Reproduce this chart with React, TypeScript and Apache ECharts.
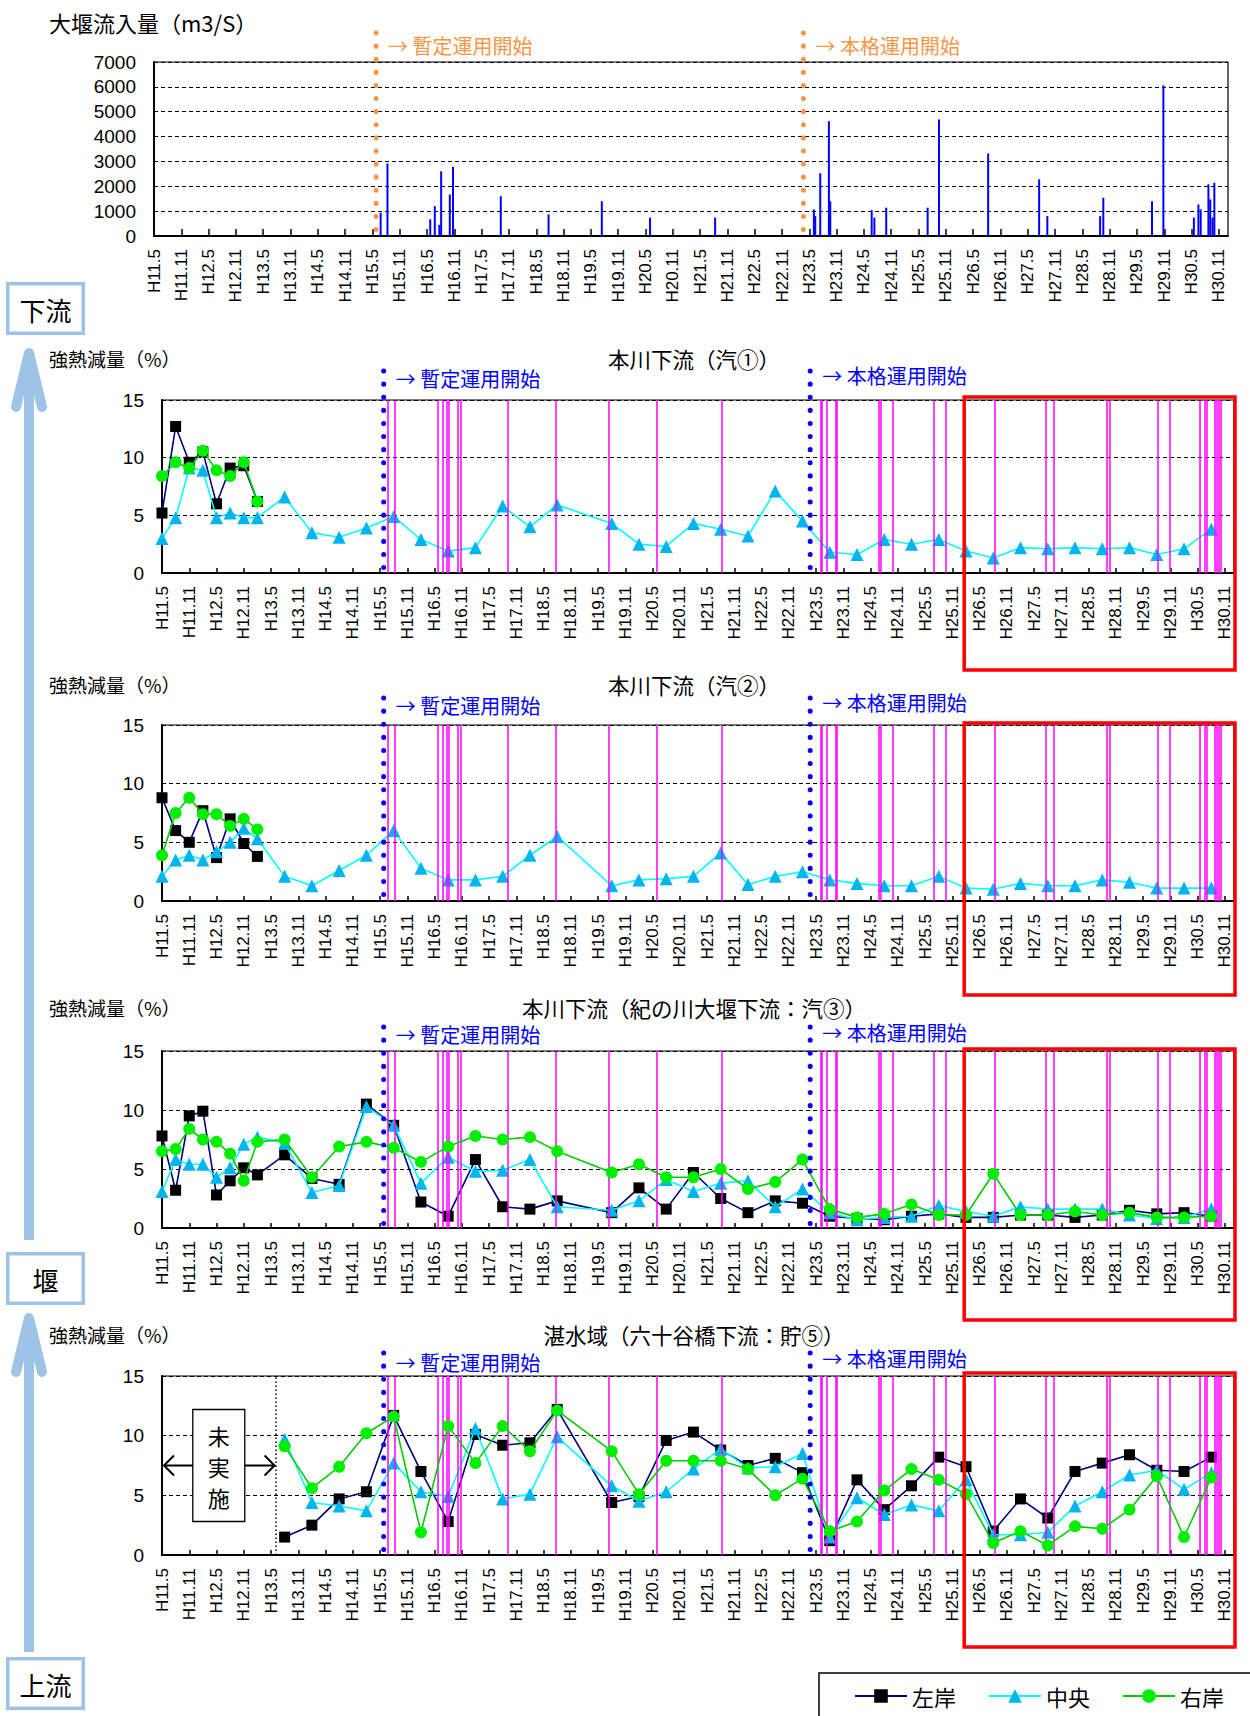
import React, { useEffect, useRef } from "react";
import * as echarts from "echarts";

// ---------- DATA ----------
// x-axis tick labels, one every 6 months (H11.5 ... H30.11)
const TICK_LABELS = [
  "H11.5", "H11.11", "H12.5", "H12.11", "H13.5", "H13.11", "H14.5", "H14.11",
  "H15.5", "H15.11", "H16.5", "H16.11", "H17.5", "H17.11", "H18.5", "H18.11",
  "H19.5", "H19.11", "H20.5", "H20.11", "H21.5", "H21.11", "H22.5", "H22.11",
  "H23.5", "H23.11", "H24.5", "H24.11", "H25.5", "H25.11", "H26.5", "H26.11",
  "H27.5", "H27.11", "H28.5", "H28.11", "H29.5", "H29.11", "H30.5", "H30.11",
];
const AXIS_MAX_MONTH = 236; // months after H11.5 (axis ends around H31.1)

// sampling dates
const DATES_EARLY = ["H11.5", "H11.8", "H11.11", "H12.2", "H12.5", "H12.8", "H12.11", "H13.2"];
const DATES_MAIN = [
  "H13.8", "H14.2", "H14.8", "H15.2", "H15.8", "H16.2", "H16.8", "H17.2", "H17.8", "H18.2", "H18.8",
  "H19.8", "H20.2", "H20.8", "H21.2", "H21.8", "H22.2", "H22.8", "H23.2",
  "H23.8", "H24.2", "H24.8", "H25.2", "H25.8", "H26.2", "H26.8", "H27.2", "H27.8",
  "H28.2", "H28.8", "H29.2", "H29.8", "H30.2", "H30.8",
];
const DATES_ALL = [...DATES_EARLY, ...DATES_MAIN];

// flood events: months after H11.5, and peak inflow (m3/s)
const FLOOD_MONTH = [
  49.8, 51.3, 60.7, 61.7, 62.7, 63.1, 65.0, 65.7, 76.2, 86.7, 98.4, 109.0, 123.3,
  145.0, 145.3, 146.4, 148.3, 148.6, 157.7, 158.3, 160.9, 170.0, 172.5, 183.3,
  194.5, 196.3, 207.9, 208.6, 219.3, 221.8, 228.5, 229.5, 230.0, 231.7, 232.1, 232.6, 233.0,
];
const FLOOD_PEAK = [
  940, 2920, 670, 1200, 450, 2600, 1670, 2780, 1600, 870, 1400, 740, 740,
  1070, 800, 2520, 4620, 1400, 1040, 740, 1140, 1140, 4690, 3320,
  2280, 800, 800, 1540, 1400, 6060, 740, 1270, 1070, 2080, 1470, 740, 2140,
];

const START_PROVISIONAL = 48.8; // 暫定運用開始
const START_FULL = 142.7; // 本格運用開始
const NOT_SURVEYED_END = 25; // 貯⑤ 未実施 until
const HIGHLIGHT_FROM = 176.6; // red frame start (H26)

// 本川下流（汽①）
const K1_LEFT = [5.2, 12.7, 9.6, 10.5, 6.0, 9.1, 9.3, 6.2];
const K1_CENTER = [
  3.0, 4.8, 9.1, 8.9, 4.8, 5.2, 4.8, 4.8,
  6.6, 3.5, 3.1, 3.9, 4.9, 2.9, 1.9, 2.2, 5.8, 4.0, 5.9,
  4.3, 2.5, 2.3, 4.3, 3.8, 3.2, 7.1, 4.5,
  1.8, 1.6, 2.9, 2.5, 2.9, 1.9, 1.3, 2.2, 2.1, 2.2, 2.1, 2.2, 1.6, 2.1, 3.8,
];
const K1_RIGHT = [8.4, 9.6, 9.1, 10.6, 8.9, 8.4, 9.6, 6.2];

// 本川下流（汽②）
const K2_LEFT = [8.8, 6.0, 5.0, 7.7, 3.7, 7.0, 4.9, 3.8];
const K2_CENTER = [
  2.1, 3.5, 3.9, 3.5, 4.2, 5.0, 6.2, 5.3,
  2.1, 1.3, 2.6, 3.9, 6.0, 2.8, 1.8, 1.8, 2.1, 3.9, 5.5,
  1.3, 1.8, 1.9, 2.1, 4.1, 1.4, 2.1, 2.5,
  1.8, 1.5, 1.3, 1.3, 2.1, 1.1, 1.0, 1.5, 1.3, 1.3, 1.8, 1.6, 1.1, 1.1, 1.1,
];
const K2_RIGHT = [3.9, 7.5, 8.8, 7.4, 7.4, 6.4, 7.0, 6.1];

// 本川下流（紀の川大堰下流：汽③）
const K3_LEFT = [
  7.8, 3.2, 9.5, 9.9, 2.8, 4.0, 5.1, 4.5,
  6.2, 4.2, 3.7, 10.5, 8.7, 2.2, 1.0, 5.8, 1.8, 1.6, 2.3,
  1.3, 3.4, 1.6, 4.7, 2.5, 1.3, 2.3, 2.1,
  1.0, 0.8, 0.7, 1.0, 1.2, 0.9, 0.9, 1.1, 1.1, 0.9, 1.1, 1.5, 1.2, 1.3, 1.0,
];
const K3_CENTER = [
  3.1, 5.8, 5.4, 5.4, 4.3, 5.1, 7.1, 7.7,
  7.2, 3.0, 3.6, 10.3, 8.7, 3.8, 6.0, 4.8, 4.9, 5.8, 1.8,
  1.5, 2.3, 4.1, 3.1, 3.8, 4.0, 1.8, 3.3,
  1.3, 0.7, 0.9, 1.0, 1.9, 1.4, 1.0, 1.8, 1.6, 1.6, 1.6, 1.1, 0.8, 0.9, 1.6,
];
const K3_RIGHT = [
  6.5, 6.7, 8.4, 7.5, 7.3, 6.3, 4.0, 7.3,
  7.5, 4.3, 6.9, 7.3, 6.8, 5.6, 6.9, 7.8, 7.5, 7.7, 6.5,
  4.7, 5.4, 4.3, 4.3, 5.0, 3.3, 3.9, 5.8,
  1.6, 0.9, 1.2, 2.0, 1.1, 1.1, 4.6, 1.1, 1.1, 1.4, 1.1, 1.3, 0.9, 0.9, 1.0,
];

// 湛水域（六十谷橋下流：貯⑤）
const T5_LEFT = [
  1.5, 2.5, 4.7, 5.3, 11.7, 7.0, 2.8, 10.1, 9.2, 9.4, 12.2,
  4.4, 4.9, 9.6, 10.3, 8.8, 7.5, 8.1, 6.9,
  1.2, 6.3, 3.8, 5.8, 8.2, 7.4, 2.0, 4.7, 3.1, 7.0, 7.7, 8.4, 7.1, 7.0, 8.2,
];
const T5_CENTER = [
  9.7, 4.4, 4.1, 3.7, 7.7, 5.3, 4.9, 10.6, 4.7, 5.1, 9.9,
  5.8, 4.5, 5.3, 7.2, 8.9, 7.3, 7.4, 8.5,
  1.5, 4.8, 3.4, 4.2, 3.7, 6.3, 1.7, 1.7, 1.9, 4.1, 5.3, 6.7, 7.1, 5.5, 6.9,
];
const T5_RIGHT = [
  9.1, 5.6, 7.4, 10.2, 11.6, 1.9, 10.8, 7.7, 10.8, 8.7, 12.1,
  8.7, 5.1, 7.9, 7.9, 7.9, 7.2, 5.0, 6.4,
  2.0, 2.8, 5.4, 7.2, 6.3, 5.1, 1.0, 2.0, 0.8, 2.4, 2.2, 3.8, 6.6, 1.5, 6.5,
];

const TITLES = [
  "本川下流（汽①）",
  "本川下流（汽②）",
  "本川下流（紀の川大堰下流：汽③）",
  "湛水域（六十谷橋下流：貯⑤）",
];

// ---------- helpers ----------
const toMonth = (s: string) => {
  const [y, m] = s.slice(1).split(".").map(Number);
  return (y - 11) * 12 + (m - 5);
};
const pairs = (dates: string[], vals: number[]) => vals.map((v, i) => [toMonth(dates[i]), v]);

const CJK = "'Noto Sans CJK JP', sans-serif";
const LAT = "'Liberation Sans', Arial, sans-serif";

const GRIDS = [
  { left: 154, right: 22, top: 62, height: 174 },
  { left: 162, right: 16, top: 400, height: 173 },
  { left: 162, right: 16, top: 725, height: 176 },
  { left: 162, right: 16, top: 1051, height: 177 },
  { left: 162, right: 16, top: 1376, height: 179 },
];
const ANNOT: any[] = [
  { dotTop: 33, lab1: 45, lab2: 45 },
  { dotTop: 371, lab1: 378, lab2: 375, head: 358, box: [397, 670] },
  { dotTop: 698, lab1: 705, lab2: 702, head: 684, box: [723, 995] },
  { dotTop: 1027, lab1: 1034, lab2: 1032, head: 1007, box: [1049, 1320] },
  { dotTop: 1353, lab1: 1362, lab2: 1358, head: 1334, box: [1373, 1647] },
];

function buildOption() {
  const grid = GRIDS.map((g) => ({ ...g, show: true, borderColor: "#000", borderWidth: 1.2, backgroundColor: "#fff" }));
  const xAxis = GRIDS.map((_, i) => ({
    type: "value",
    gridIndex: i,
    min: 0,
    max: AXIS_MAX_MONTH,
    interval: 6,
    axisLine: { show: true, onZero: false, lineStyle: { color: "#000", width: 2 } },
    axisTick: { show: true, inside: true, length: i === 0 ? 7 : 5, lineStyle: { color: "#000", width: 1.5 } },
    axisLabel: {
      rotate: 90,
      margin: 13,
      fontSize: 17,
      color: "#000",
      fontFamily: LAT,
      showMaxLabel: false,
      formatter: (v: number) => (v % 6 === 0 && TICK_LABELS[v / 6] ? TICK_LABELS[v / 6] : ""),
    },
    splitLine: { show: false },
  }));
  const yAxis = GRIDS.map((_, i) => ({
    type: "value",
    gridIndex: i,
    min: 0,
    max: i === 0 ? 7000 : 15,
    interval: i === 0 ? 1000 : 5,
    axisLine: { show: true, lineStyle: { color: "#000", width: 2 } },
    axisTick: { show: false },
    axisLabel: { margin: 18, fontSize: 19, color: "#000", fontFamily: LAT, formatter: (v: number) => String(v) },
    splitLine: { show: true, lineStyle: { color: "#000", type: [4, 3], width: 1.2 } },
  }));

  const series: any[] = [];
  series.push({
    type: "bar",
    name: "流入量",
    xAxisIndex: 0,
    yAxisIndex: 0,
    barWidth: 2,
    itemStyle: { color: "#0000FF" },
    data: FLOOD_MONTH.map((t, i) => [t, FLOOD_PEAK[i]]),
  });

  const sets: Array<[number[][], number[][], number[][]]> = [
    [pairs(DATES_EARLY, K1_LEFT), pairs(DATES_ALL, K1_CENTER), pairs(DATES_EARLY, K1_RIGHT)],
    [pairs(DATES_EARLY, K2_LEFT), pairs(DATES_ALL, K2_CENTER), pairs(DATES_EARLY, K2_RIGHT)],
    [pairs(DATES_ALL, K3_LEFT), pairs(DATES_ALL, K3_CENTER), pairs(DATES_ALL, K3_RIGHT)],
    [pairs(DATES_MAIN, T5_LEFT), pairs(DATES_MAIN, T5_CENTER), pairs(DATES_MAIN, T5_RIGHT)],
  ];

  sets.forEach((s, k) => {
    const gi = k + 1;
    const mlData: any[] = FLOOD_MONTH.map((t) => ({ xAxis: t }));
    if (gi === 4) {
      mlData.push({ xAxis: NOT_SURVEYED_END, lineStyle: { color: "#000", type: [1.5, 2.5], width: 1.5 } });
    }
    series.push({
      type: "line",
      name: "_flood" + gi,
      xAxisIndex: gi,
      yAxisIndex: gi,
      data: [],
      z: 1,
      silent: true,
      markLine: {
        silent: true,
        symbol: ["none", "none"],
        label: { show: false },
        emphasis: { disabled: true },
        lineStyle: { color: "#FF00FF", width: 1.5, type: "solid" },
        data: mlData,
      },
    });
    series.push({
      type: "line",
      name: "左岸",
      xAxisIndex: gi,
      yAxisIndex: gi,
      data: s[0],
      symbol: "rect",
      symbolSize: 11,
      itemStyle: { color: "#000000" },
      lineStyle: { color: "#000080", width: 1.6 },
      z: 3,
    });
    series.push({
      type: "line",
      name: "中央",
      xAxisIndex: gi,
      yAxisIndex: gi,
      data: s[1],
      symbol: "triangle",
      symbolSize: 13,
      itemStyle: { color: "#00B4F0" },
      lineStyle: { color: "#00FFFF", width: 1.6 },
      z: 4,
    });
    series.push({
      type: "line",
      name: "右岸",
      xAxisIndex: gi,
      yAxisIndex: gi,
      data: s[2],
      symbol: "circle",
      symbolSize: 12,
      itemStyle: { color: "#00EE00" },
      lineStyle: { color: "#00CC00", width: 1.6 },
      z: 5,
    });
  });

  return {
    animation: false,
    backgroundColor: "#fff",
    textStyle: { fontFamily: CJK },
    grid,
    xAxis,
    yAxis,
    series,
    legend: {
      data: ["左岸", "中央", "右岸"],
      left: 849,
      top: 1680,
      itemWidth: 52,
      itemHeight: 17,
      itemGap: 32,
      selectedMode: false,
      textStyle: { fontSize: 22, color: "#000", fontFamily: CJK },
    },
  };
}

function buildGraphics(chart: any) {
  const g: any[] = [];
  const px = (gi: number, t: number, v: number) => chart.convertToPixel({ gridIndex: gi }, [t, v]);
  const txt = (x: number, y: number, text: string, size: number, fill = "#000", align = "left") => ({
    type: "text",
    x,
    y,
    z: 100,
    style: { text, fontSize: size, fontFamily: CJK, fill, textAlign: align, textVerticalAlign: "middle", align, verticalAlign: "middle" },
  });
  const line = (x1: number, y1: number, x2: number, y2: number, stroke: string, lineWidth: number, extra: any = {}) => ({
    type: "line",
    z: 100,
    shape: { x1, y1, x2, y2 },
    style: { stroke, lineWidth, ...extra },
  });

  // titles
  g.push(txt(49, 22, "大堰流入量（m3/S）", 22));
  TITLES.forEach((t, k) => {
    const a = ANNOT[k + 1];
    g.push(txt(49, a.head, "強熱減量（%）", 19));
    g.push(txt(694, a.head, t, 21.5, "#000", "center"));
  });

  // start lines + labels
  ANNOT.forEach((a, gi) => {
    const col = gi === 0 ? "#F79646" : "#0000FF";
    const bottom = GRIDS[gi].top + GRIDS[gi].height;
    const x1 = px(gi, START_PROVISIONAL, 0)[0];
    const x2 = px(gi, START_FULL, 0)[0];
    const dot = { lineDash: [0.1, 13], lineCap: "round" };
    g.push(line(x1, a.dotTop, x1, bottom - 2, col, 5, dot));
    g.push(line(x2, a.dotTop, x2, bottom - 2, col, 5, dot));
    g.push(txt(x1 + 12, a.lab1, "→ 暫定運用開始", 20, col));
    g.push(txt(x2 + 12, a.lab2, "→ 本格運用開始", 20, col));
    if (a.box) {
      const bx = px(gi, HIGHLIGHT_FROM, 0)[0];
      const rx = 1250 - GRIDS[gi].right + 1;
      g.push({
        type: "rect",
        z: 110,
        shape: { x: bx, y: a.box[0], width: rx - bx, height: a.box[1] - a.box[0] },
        style: { stroke: "#FF0000", fill: "none", lineWidth: 3.5 },
      });
    }
  });

  // 未実施 annotation in 貯⑤
  {
    const gi = 4;
    const [xl, yc] = px(gi, 0, 7.5);
    const xr = px(gi, NOT_SURVEYED_END, 7.5)[0];
    const cx = (xl + xr) / 2;
    const bw = 52, bh = 112;
    g.push({ type: "rect", z: 100, shape: { x: cx - bw / 2, y: yc - bh / 2, width: bw, height: bh }, style: { stroke: "#000", fill: "#fff", lineWidth: 1.3 } });
    ["未", "実", "施"].forEach((ch, i) => {
      g.push({ ...txt(cx, yc + (i - 1) * 31, ch, 22, "#000", "center"), z: 101 });
    });
    g.push(line(xl + 2, yc, cx - bw / 2, yc, "#000", 2));
    g.push({ type: "polyline", z: 100, shape: { points: [[xl + 12, yc - 10], [xl + 2, yc], [xl + 12, yc + 10]] }, style: { stroke: "#000", lineWidth: 2, fill: "none" } });
    g.push(line(cx + bw / 2, yc, xr - 1, yc, "#000", 2));
    g.push({ type: "polyline", z: 100, shape: { points: [[xr - 11, yc - 10], [xr - 1, yc], [xr - 11, yc + 10]] }, style: { stroke: "#000", lineWidth: 2, fill: "none" } });
  }

  // left side flow arrows & boxes
  const ARROW = "#9DC3E6";
  const arrow = (tipY: number, baseY: number) => {
    g.push(line(29, tipY + 4, 29, baseY, ARROW, 10, { lineCap: "butt" }));
    g.push({ type: "polyline", z: 99, shape: { points: [[16, tipY + 58], [29, tipY + 4], [42, tipY + 58]] }, style: { stroke: ARROW, lineWidth: 10, lineCap: "round", lineJoin: "round", fill: "none" } });
  };
  arrow(349, 1240);
  arrow(1314, 1652);
  const box = (y: number, label: string) => {
    g.push({ type: "rect", z: 100, shape: { x: 7.75, y: y + 1.75, width: 75.5, height: 49.5 }, style: { stroke: ARROW, fill: "#fff", lineWidth: 3.5 } });
    g.push(txt(45.5, y + 27, label, 26, "#000", "center"));
  };
  box(282, "下流");
  box(1252, "堰");
  box(1657, "上流");

  // legend frame
  g.push({ type: "rect", z: 100, shape: { x: 819, y: 1673, width: 480, height: 80 }, style: { stroke: "#000", fill: "none", lineWidth: 1.5 } });

  return g;
}

export default function App() {
  const ref = useRef<HTMLDivElement>(null);
  useEffect(() => {
    const chart = echarts.init(ref.current!, null, { renderer: "svg" });
    chart.setOption(buildOption() as any);
    chart.setOption({ graphic: buildGraphics(chart) } as any);
    return () => chart.dispose();
  }, []);
  return <div ref={ref} style={{ position: "absolute", left: 0, top: 0, width: 1250, height: 1716, background: "#fff" }} />;
}
